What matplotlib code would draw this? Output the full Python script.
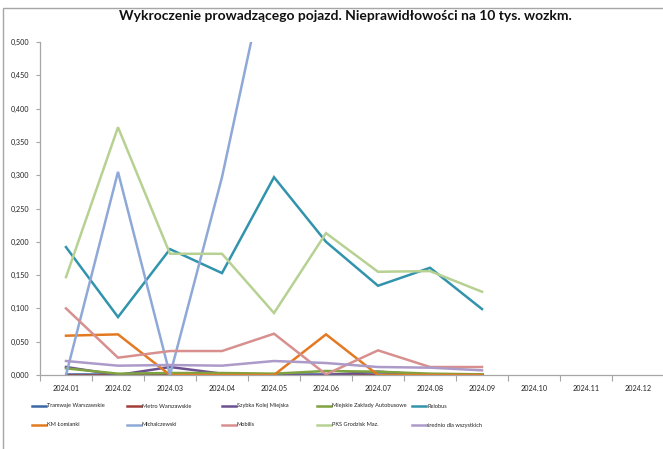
import numpy as np
import matplotlib
matplotlib.use("Agg")
import matplotlib.pyplot as plt
from matplotlib.lines import Line2D
from matplotlib.patches import Rectangle
from matplotlib.ticker import FuncFormatter, FixedLocator

plt.rcParams['font.family'] = ['Lato', 'DejaVu Sans']

months = ["2024.01", "2024.02", "2024.03", "2024.04", "2024.05", "2024.06",
          "2024.07", "2024.08", "2024.09", "2024.10", "2024.11", "2024.12"]
nan = np.nan

tramwaje      = [0.001, 0.001, 0.001, 0.001, 0.001, 0.001, 0.001, 0.001, 0.001, nan, nan, nan]
metro         = [0.000, 0.000, 0.000, 0.000, 0.000, 0.000, 0.000, 0.000, 0.000, nan, nan, nan]
skm           = [0.012, 0.000, 0.012, 0.002, 0.000, 0.000, 0.005, 0.000, 0.000, nan, nan, nan]
mza           = [0.010, 0.002, 0.003, 0.003, 0.002, 0.006, 0.005, 0.002, 0.001, nan, nan, nan]
relobus       = [0.192, 0.087, 0.189, 0.153, 0.297, 0.200, 0.134, 0.161, 0.099, nan, nan, nan]
km_lomianki   = [0.059, 0.061, 0.000, 0.000, 0.000, 0.061, 0.000, 0.000, 0.000, nan, nan, nan]
michalczewski = [0.000, 0.305, 0.000, 0.297, 0.660, nan, nan, nan, nan, nan, nan, nan]
mobilis       = [0.100, 0.026, 0.036, 0.036, 0.062, 0.001, 0.037, 0.012, 0.012, nan, nan, nan]
pks           = [0.147, 0.372, 0.182, 0.182, 0.093, 0.213, 0.155, 0.156, 0.125, nan, nan, nan]
srednio       = [0.021, 0.014, 0.015, 0.014, 0.021, 0.018, 0.012, 0.011, 0.007, nan, nan, nan]

names = ["Tramwaje Warszawskie", "Metro Warszawskie", "Szybka Kolej Miejska",
         "Miejskie Zakłady Autobusowe", "Relobus", "KM Łomianki", "Michalczewski",
         "Mobilis", "PKS Grodzisk Maz.", "średnio dla wszystkich"]
series = [tramwaje, metro, skm, mza, relobus, km_lomianki, michalczewski,
          mobilis, pks, srednio]
colors = ["#3C67A3", "#A33E3B", "#6B5190", "#7FA33F", "#3293AC", "#E37A22",
          "#8EA9D7", "#D7908E", "#B7D192", "#AC9AC9"]

W, H = 663, 449
fig = plt.figure(figsize=(W / 100, H / 100), dpi=100)

# chart frame
fig.patches.append(Rectangle((3 / W, -0.1), 1.2, 1 - 8 / H + 0.1,
                             transform=fig.transFigure, fill=False,
                             edgecolor="#A6A6A6", linewidth=1.0))

ax = fig.add_axes([40 / W, 1 - 375 / H, 624 / W, 333 / H])
x = np.arange(len(months))
for vals, c in zip(series, colors):
    ax.plot(x, vals, color=c, lw=1.8, solid_joinstyle="miter")

ax.set_ylim(0, 0.5)
ax.set_xlim(-0.5, 11.5)
ax.set_yticks(np.arange(0, 0.5001, 0.05))
ax.yaxis.set_major_formatter(FuncFormatter(lambda v, p: f"{v:.3f}".replace(".", ",")))
ax.set_xticks(x)
ax.set_xticklabels(months)
ax.xaxis.set_minor_locator(FixedLocator(np.arange(-0.5, 12, 1)))
ax.tick_params(axis="x", which="major", length=0, pad=7, labelsize=5.2, colors="#222222")
ax.tick_params(axis="x", which="minor", length=4, width=0.8, color="#A6A6A6", direction="out")
ax.tick_params(axis="y", length=3, width=0.8, color="#A6A6A6", pad=5, labelsize=5.2,
               labelcolor="#222222")
for s in ["top", "right"]:
    ax.spines[s].set_visible(False)
for s in ["left", "bottom"]:
    ax.spines[s].set_color("#A6A6A6")
    ax.spines[s].set_linewidth(0.9)

fig.text(345 / W, 1 - 16 / H, "Wykroczenie prowadzącego pojazd. Nieprawidłowości na 10 tys. wozkm.",
         ha="center", va="center", fontsize=10, fontweight="bold", color="#111111")

# legend (two rows, five columns)
for i, (name, c) in enumerate(zip(names, colors)):
    row, col = divmod(i, 5)
    y = 1 - (406 + row * 19) / H
    x0 = (32 + col * 95) / W
    fig.add_artist(Line2D([x0, x0 + 14 / W], [y, y], transform=fig.transFigure,
                          color=c, lw=1.8))
    fig.text(x0 + 15 / W, y, name, ha="left", va="center", fontsize=4.1, color="#222222")

fig.savefig("out.png", dpi=100)
